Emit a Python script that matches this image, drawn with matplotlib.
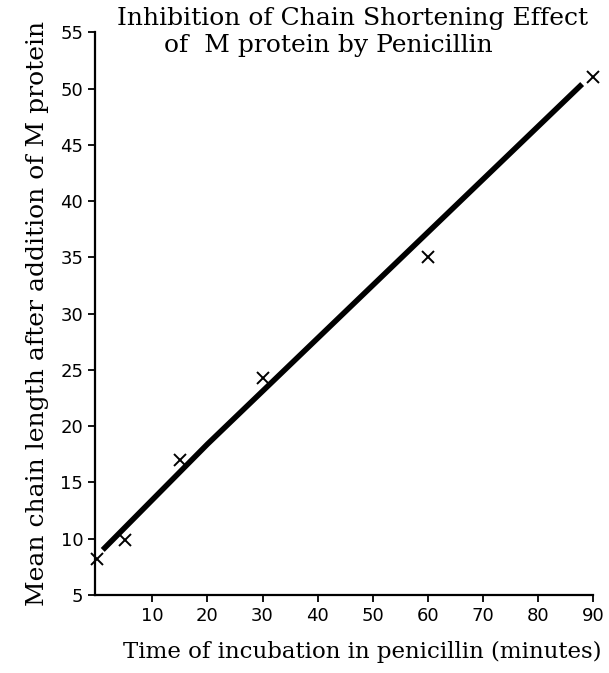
import matplotlib.pyplot as plt

# observed points (x marks)
minutes = [0, 5, 15, 30, 60, 90]
chain_len = [8.2, 9.9, 17.0, 24.3, 35.0, 51.0]

# hand-drawn fit line
fit_x = [1, 20, 88]
fit_y = [9.0, 18.4, 50.4]

xticks = [10, 20, 30, 40, 50, 60, 70, 80, 90]
yticks = [5, 10, 15, 20, 25, 30, 35, 40, 45, 50, 55]

plt.rcParams['font.family'] = ['DejaVu Serif']

fig = plt.figure(figsize=(6.09, 6.73), dpi=100)
ax = fig.add_axes([0.156, 0.116, 0.818, 0.836])

ax.plot(fit_x, fit_y, color='black', lw=4.0, solid_capstyle='butt')
ax.plot(minutes, chain_len, 'x', color='black', ms=8, mew=1.4, clip_on=False)

ax.set_xlim(-0.4, 90)
ax.set_ylim(5, 55)
ax.set_xticks(xticks)
ax.set_yticks(yticks)
ax.tick_params(labelsize=13, length=5, width=1.3, direction='out')
for lab in ax.get_xticklabels() + ax.get_yticklabels():
        lab.set_family('DejaVu Sans')

for s in ['top', 'right']:
        ax.spines[s].set_visible(False)
for s in ['left', 'bottom']:
        ax.spines[s].set_linewidth(1.6)

ax.set_xlabel('Time of incubation in penicillin (minutes)', fontsize=16.5, labelpad=12)
ax.xaxis.label.set_x(0.536)
ax.set_ylabel('Mean chain length after addition of M protein', fontsize=18, labelpad=8)

fig.text(0.579, 0.973, 'Inhibition of Chain Shortening Effect', fontsize=18,
         ha='center', va='center')
fig.text(0.54, 0.932, 'of  M protein by Penicillin', fontsize=18,
         ha='center', va='center')

fig.savefig('out.png', dpi=100)
